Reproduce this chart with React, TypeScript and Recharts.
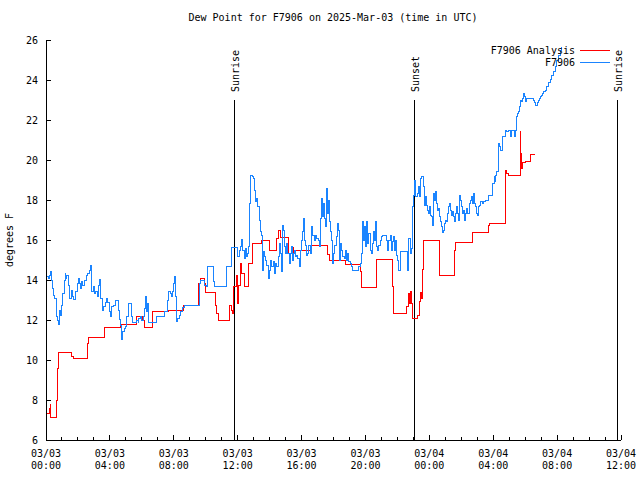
import { LineChart, Line, XAxis, YAxis, ReferenceLine } from "recharts";

const FONT = "'DejaVu Sans Mono', 'Liberation Mono', monospace";

// hours since 03/03 00:00 UTC -> dew point (F)
const analysisReadings: [number, number][] = [
  [0.04, 7.33], [0.21, 7.6], [0.27, 7.8], [0.31, 7.15], [0.63, 8.0], [0.71, 9.6], [0.77, 10.4],
  [1.6, 10.2], [1.71, 10.1], [2.6, 10.83], [2.69, 11.13], [3.65, 11.63], [4.67, 11.78],
  [5.67, 12.17], [6.04, 12.0], [6.15, 11.63], [6.67, 12.43], [7.67, 12.48], [8.63, 12.75],
  [9.56, 13.83], [9.65, 14.08], [9.9, 13.83], [9.98, 13.37], [10.6, 12.75], [10.67, 12.35],
  [10.8, 12.0], [11.46, 12.75], [11.6, 12.5], [11.69, 12.33], [11.73, 13.67], [11.9, 14.25],
  [11.96, 13.33], [12.0, 12.83], [12.06, 13.75], [12.15, 14.83], [12.27, 14.33], [12.41, 13.67],
  [12.69, 14.83], [12.9, 15.33], [12.94, 15.83], [13.47, 16.0], [13.99, 15.47], [14.44, 16.08],
  [14.57, 16.5], [14.71, 16.13], [15.17, 15.33], [15.34, 15.63], [15.48, 15.33], [15.65, 15.5],
  [16.64, 15.72], [17.61, 15.3], [17.72, 15.0], [18.72, 14.8], [19.66, 14.42], [19.77, 13.62],
  [20.71, 15.03], [21.71, 13.7], [21.75, 12.33], [22.6, 12.67], [22.68, 13.33], [22.74, 12.83],
  [22.84, 13.42], [22.9, 12.83], [22.94, 12.08], [23.25, 12.25], [23.36, 12.95], [23.42, 13.4],
  [23.5, 13.1], [23.56, 14.53], [23.62, 16.0], [24.61, 15.08], [24.65, 14.23], [25.59, 15.5],
  [25.66, 15.9], [26.7, 16.37], [27.7, 16.75], [27.74, 16.83], [28.74, 18.17], [28.78, 19.5],
  [28.85, 19.33], [28.94, 19.25], [29.68, 21.42], [29.72, 20.33], [29.79, 19.58], [29.85, 19.87],
  [30.0, 19.92], [30.31, 20.3], [30.62, 20.3],
];

const stationReadings: [number, number][] = [
  [0.04, 14.17], [0.15, 14.08], [0.21, 14.25], [0.27, 14.42], [0.35, 14.0], [0.42, 13.58],
  [0.5, 13.25], [0.56, 13.08], [0.63, 12.83], [0.67, 12.17], [0.73, 12.0], [0.77, 11.8],
  [0.84, 12.5], [0.92, 12.25], [0.98, 12.75], [1.04, 13.33], [1.13, 14.0], [1.19, 14.33],
  [1.25, 14.08], [1.29, 14.25], [1.4, 13.75], [1.46, 13.42], [1.5, 13.08], [1.61, 13.5],
  [1.67, 13.17], [1.71, 13.03], [1.82, 13.42], [1.96, 13.83], [2.03, 14.08], [2.09, 13.83],
  [2.17, 13.58], [2.23, 13.92], [2.3, 13.75], [2.38, 14.0], [2.51, 14.25], [2.59, 14.33],
  [2.71, 14.5], [2.76, 14.75], [2.82, 14.0], [2.86, 13.42], [2.96, 13.67], [3.03, 13.33],
  [3.13, 13.42], [3.22, 13.17], [3.28, 13.75], [3.34, 13.92], [3.38, 14.03], [3.44, 13.08],
  [3.53, 12.5], [3.59, 12.67], [3.7, 12.87], [3.8, 13.08], [3.86, 12.87], [3.95, 12.42],
  [4.01, 12.17], [4.07, 12.67], [4.22, 12.75], [4.32, 13.0], [4.53, 12.5], [4.59, 12.03],
  [4.68, 11.75], [4.74, 11.03], [4.8, 11.42], [4.89, 11.58], [4.97, 11.67], [5.05, 12.17],
  [5.16, 12.83], [5.37, 12.17], [5.43, 11.87], [5.68, 12.0], [5.76, 11.87], [5.82, 12.08],
  [5.89, 12.17], [5.99, 12.0], [6.1, 12.17], [6.16, 12.58], [6.22, 13.17], [6.3, 12.42],
  [6.37, 12.83], [6.43, 11.87], [6.89, 12.17], [7.39, 12.2], [7.45, 12.42], [7.62, 13.0],
  [7.68, 13.42], [7.77, 13.33], [7.87, 13.17], [7.91, 13.42], [7.97, 13.83], [8.04, 14.17],
  [8.1, 13.17], [8.18, 11.92], [8.25, 12.08], [8.35, 12.25], [8.43, 12.42], [8.56, 12.63],
  [8.64, 12.75], [9.6, 13.83], [9.69, 14.0], [9.92, 13.75], [10.02, 13.67], [10.1, 14.7],
  [10.48, 13.92], [10.52, 13.7], [11.3, 14.67], [11.6, 15.63], [11.98, 15.17], [12.11, 15.5],
  [12.19, 15.67], [12.25, 16.03], [12.32, 15.5], [12.4, 15.08], [12.46, 15.58], [12.53, 15.17],
  [12.61, 15.33], [12.67, 15.67], [12.73, 17.83], [12.78, 19.25], [12.92, 19.2], [12.99, 19.08],
  [13.05, 18.5], [13.13, 17.92], [13.19, 18.08], [13.26, 17.67], [13.34, 17.0], [13.4, 16.42],
  [13.47, 16.25], [13.53, 15.67], [13.57, 14.5], [13.63, 15.42], [13.7, 15.17], [13.76, 15.0],
  [13.82, 14.75], [13.92, 14.08], [13.99, 14.5], [14.07, 15.0], [14.13, 14.67], [14.24, 14.92],
  [14.3, 14.33], [14.38, 14.83], [14.45, 14.67], [14.55, 15.17], [14.61, 15.83], [14.66, 15.33],
  [14.72, 14.42], [14.78, 16.75], [14.86, 16.5], [14.93, 15.67], [14.99, 15.33], [15.07, 15.83],
  [15.14, 15.33], [15.22, 14.83], [15.28, 15.33], [15.34, 15.67], [15.43, 15.0], [15.49, 15.33],
  [15.55, 15.5], [15.64, 15.17], [15.7, 15.25], [15.76, 15.08], [15.85, 14.67], [15.91, 15.5],
  [15.97, 16.0], [16.05, 16.42], [16.12, 17.08], [16.18, 16.0], [16.24, 15.75], [16.33, 15.25],
  [16.39, 15.33], [16.45, 15.75], [16.53, 15.33], [16.64, 16.67], [16.7, 16.25], [16.78, 16.0],
  [16.85, 16.25], [16.95, 16.08], [17.06, 16.0], [17.12, 15.67], [17.2, 17.08], [17.27, 18.08],
  [17.31, 17.17], [17.37, 17.83], [17.43, 17.08], [17.49, 16.67], [17.58, 18.58], [17.64, 17.33],
  [17.7, 18.0], [17.77, 16.92], [17.83, 16.42], [17.89, 16.0], [17.95, 14.83], [18.02, 15.33],
  [18.08, 15.75], [18.16, 16.17], [18.25, 16.83], [18.31, 16.5], [18.37, 15.0], [18.46, 15.83],
  [18.52, 15.5], [18.58, 15.17], [18.66, 15.08], [18.73, 15.5], [18.79, 15.0], [18.87, 15.33],
  [18.96, 14.92], [19.04, 14.83], [19.1, 14.67], [19.16, 14.5], [19.58, 14.67], [19.67, 14.83],
  [19.73, 15.33], [19.79, 16.92], [19.87, 16.0], [19.94, 16.67], [20.0, 15.67], [20.08, 16.92],
  [20.15, 15.83], [20.21, 16.33], [20.29, 15.5], [20.36, 15.33], [20.42, 15.83], [20.5, 16.42],
  [20.56, 16.0], [20.63, 16.92], [20.69, 15.67], [20.75, 15.5], [20.84, 15.75], [20.92, 16.0],
  [20.98, 16.17], [21.04, 16.25], [21.34, 16.0], [21.4, 15.5], [21.46, 16.0], [21.55, 16.25],
  [21.61, 15.5], [21.67, 15.92], [21.75, 16.17], [21.82, 15.5], [21.88, 16.0], [21.96, 15.25],
  [22.03, 15.0], [22.09, 14.5], [22.17, 15.42], [22.63, 14.5], [22.69, 16.08], [22.8, 15.33],
  [22.86, 15.58], [22.94, 17.67], [23.0, 18.25], [23.07, 19.0], [23.13, 18.17], [23.26, 18.33],
  [23.32, 18.67], [23.4, 18.17], [23.47, 19.08], [23.53, 19.17], [23.63, 18.67], [23.69, 17.75],
  [23.76, 18.17], [23.82, 17.75], [23.88, 17.5], [23.95, 17.33], [24.01, 17.67], [24.07, 17.25],
  [24.13, 17.17], [24.2, 16.75], [24.26, 18.33], [24.32, 18.0], [24.39, 18.42], [24.45, 17.83],
  [24.51, 17.5], [24.58, 17.58], [24.64, 17.17], [24.7, 16.92], [24.76, 16.67], [24.82, 16.37],
  [24.89, 16.5], [24.95, 16.83], [25.01, 17.0], [25.07, 16.92], [25.13, 17.33], [25.19, 17.67],
  [25.26, 17.83], [25.32, 17.5], [25.39, 17.25], [25.45, 17.42], [25.51, 17.17], [25.58, 16.92],
  [25.64, 17.33], [25.7, 17.67], [25.76, 17.33], [25.82, 17.0], [25.9, 18.25], [25.96, 18.0],
  [26.02, 17.67], [26.08, 17.33], [26.14, 17.5], [26.2, 17.0], [26.27, 17.33], [26.35, 17.58],
  [26.41, 17.33], [26.49, 17.83], [26.55, 18.0], [26.62, 18.17], [26.68, 17.83], [26.74, 18.33],
  [26.8, 17.83], [26.87, 17.67], [26.93, 17.33], [27.01, 17.25], [27.08, 17.67], [27.14, 17.75],
  [27.22, 17.92], [27.31, 17.83], [27.39, 17.92], [27.5, 18.0], [27.7, 18.22], [27.97, 18.83],
  [28.06, 19.17], [28.1, 18.92], [28.16, 19.25], [28.23, 19.42], [28.3, 20.33], [28.36, 20.83],
  [28.42, 20.67], [28.48, 20.5], [28.55, 21.17], [28.74, 21.42], [28.77, 21.5], [28.85, 21.42],
  [28.94, 21.5], [29.08, 21.17], [29.14, 21.5], [29.35, 21.17], [29.42, 21.5], [29.48, 22.17],
  [29.54, 22.33], [29.6, 22.42], [29.65, 22.67], [29.73, 23.0], [29.79, 22.92], [29.85, 23.08],
  [29.92, 23.33], [29.98, 23.17], [30.04, 22.92], [30.1, 23.08], [30.5, 23.0], [30.58, 22.87],
  [30.65, 22.75], [30.71, 22.75], [30.77, 22.87], [30.84, 22.97], [30.9, 23.08], [30.96, 23.17],
  [31.02, 23.25], [31.09, 23.33], [31.15, 23.42], [31.25, 23.5], [31.36, 23.67], [31.46, 23.87],
  [31.57, 24.03], [31.67, 24.25], [31.78, 24.42], [31.88, 24.67], [31.98, 25.0], [32.09, 25.25],
  [32.19, 25.5], [32.27, 25.65],
];

const sunEvents = [
  { h: 11.79, label: "Sunrise" },
  { h: 23.06, label: "Sunset" },
  { h: 35.75, label: "Sunrise" },
];

const hourTicks = Array.from({ length: 37 }, (_, i) => i);
const dewTicks = [6, 8, 10, 12, 14, 16, 18, 20, 22, 24, 26];
const dayLabels: Record<number, [string, string]> = {
  0: ["03/03", "00:00"],
  4: ["03/03", "04:00"],
  8: ["03/03", "08:00"],
  12: ["03/03", "12:00"],
  16: ["03/03", "16:00"],
  20: ["03/03", "20:00"],
  24: ["03/04", "00:00"],
  28: ["03/04", "04:00"],
  32: ["03/04", "08:00"],
  36: ["03/04", "12:00"],
};

const analysisData = analysisReadings.map(([h, v]) => ({ h, v }));
const stationData = stationReadings.map(([h, v]) => ({ h, v }));

function BottomTick(props: any) {
  const { x, y, payload } = props;
  const lbl = dayLabels[payload.value];
  return (
    <g>
      <line x1={x} x2={x} y1={y} y2={y - (lbl ? 5 : 3)} stroke="#000" shapeRendering="crispEdges" />
      {lbl && (
        <text x={x} y={y} textAnchor="middle" fontFamily={FONT} fontSize={10} fill="#000">
          <tspan x={x} dy={16.5}>{lbl[0]}</tspan>
          <tspan x={x} dy={12}>{lbl[1]}</tspan>
        </text>
      )}
    </g>
  );
}

function TopTick(props: any) {
  const { x, y, payload } = props;
  const major = dayLabels[payload.value] !== undefined;
  return <line x1={x} x2={x} y1={y} y2={y + (major ? 5 : 3)} stroke="#000" shapeRendering="crispEdges" />;
}

function LeftTick(props: any) {
  const { x, y, payload } = props;
  return (
    <g>
      <line x1={x} x2={x + 5} y1={y} y2={y} stroke="#000" shapeRendering="crispEdges" />
      <text x={x - 8} y={y + 3.5} textAnchor="end" fontFamily={FONT} fontSize={10} fill="#000">
        {payload.value}
      </text>
    </g>
  );
}

function RightTick(props: any) {
  const { x, y } = props;
  return <line x1={x} x2={x - 5} y1={y} y2={y} stroke="#000" shapeRendering="crispEdges" />;
}

function sunLabel(text: string) {
  return (p: any) => {
    const vb = p.viewBox || {};
    return (
      <text
        transform={`translate(${vb.x + 4.5},${vb.y - 8}) rotate(-90)`}
        fontFamily={FONT}
        fontSize={10}
        fill="#000"
      >
        {text}
      </text>
    );
  };
}

export default function App() {
  return (
    <div style={{ position: "absolute", left: 0, top: 0, width: 640, height: 480, background: "#fff" }}>
      <LineChart width={640} height={480} margin={{ top: 40, right: 19, bottom: 0, left: 0 }}>
        <XAxis
          dataKey="h"
          type="number"
          domain={[0, 36]}
          ticks={hourTicks}
          interval={0}
          height={40}
          tickSize={0}
          tickMargin={0}
          tickLine={false}
          axisLine={{ stroke: "#000", shapeRendering: "crispEdges" }}
          tick={<BottomTick />}
          allowDataOverflow
        />
        <XAxis
          xAxisId="top"
          orientation="top"
          dataKey="h"
          type="number"
          domain={[0, 36]}
          ticks={hourTicks}
          interval={0}
          height={0}
          tickSize={0}
          tickMargin={0}
          tickLine={false}
          axisLine={{ stroke: "#000", shapeRendering: "crispEdges" }}
          tick={<TopTick />}
        />
        <YAxis
          type="number"
          domain={[6, 26]}
          ticks={dewTicks}
          interval={0}
          width={46}
          tickSize={0}
          tickMargin={0}
          tickLine={false}
          axisLine={{ stroke: "#000", shapeRendering: "crispEdges" }}
          tick={<LeftTick />}
          allowDataOverflow
        />
        <YAxis
          yAxisId="right"
          orientation="right"
          type="number"
          domain={[6, 26]}
          ticks={dewTicks}
          interval={0}
          width={0}
          tickSize={0}
          tickMargin={0}
          tickLine={false}
          axisLine={{ stroke: "#000", shapeRendering: "crispEdges" }}
          tick={<RightTick />}
        />
        {sunEvents.map((e, i) => (
          <ReferenceLine
            key={i}
            segment={[{ x: e.h, y: 6 }, { x: e.h, y: 23 }]}
            stroke="#000"
            strokeWidth={1}
            shapeRendering="crispEdges"
            label={sunLabel(e.label)}
          />
        ))}
        <Line
          data={analysisData}
          dataKey="v"
          type="stepAfter"
          stroke="#ff0000"
          strokeWidth={1}
          shapeRendering="crispEdges"
          dot={false}
          isAnimationActive={false}
        />
        <Line
          data={stationData}
          dataKey="v"
          type="stepAfter"
          stroke="#1a84ff"
          strokeWidth={1}
          shapeRendering="crispEdges"
          dot={false}
          isAnimationActive={false}
        />
      </LineChart>
      <svg
        width={640}
        height={480}
        style={{ position: "absolute", left: 0, top: 0, pointerEvents: "none" }}
        fontFamily={FONT}
        fontSize={10}
      >
        <text x={333} y={21} textAnchor="middle" fill="#000">
          Dew Point for F7906 on 2025-Mar-03 (time in UTC)
        </text>
        <text transform="translate(13,240) rotate(-90)" textAnchor="middle" fill="#000">
          degrees F
        </text>
        <text x={575} y={53.5} textAnchor="end" fill="#000">F7906 Analysis</text>
        <line x1={580} x2={610} y1={50} y2={50} stroke="#ff0000" shapeRendering="crispEdges" />
        <text x={575} y={66} textAnchor="end" fill="#000">F7906</text>
        <line x1={580} x2={610} y1={62.5} y2={62.5} stroke="#1a84ff" shapeRendering="crispEdges" />
      </svg>
    </div>
  );
}
